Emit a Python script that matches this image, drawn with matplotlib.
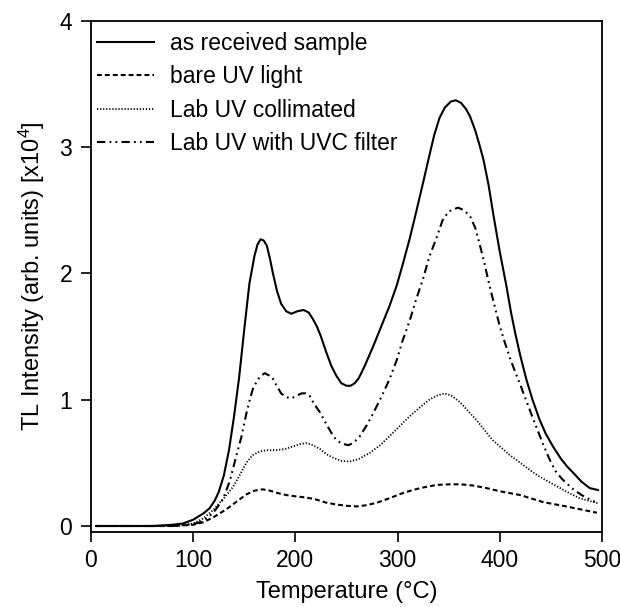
import matplotlib
matplotlib.use("Agg")
import matplotlib.pyplot as plt

plt.rcParams['font.family'] = ['Liberation Sans', 'DejaVu Sans']
plt.rcParams['mathtext.fontset'] = 'custom'
plt.rcParams['mathtext.rm'] = 'Liberation Sans'
plt.rcParams['mathtext.it'] = 'Liberation Sans'
plt.rcParams['lines.scale_dashes'] = False

# ---- data ----
labels = ["as received sample", "bare UV light", "Lab UV collimated", "Lab UV with UVC filter"]

t_received = [5, 60, 80, 90, 100, 110, 116, 121, 125, 130, 135, 140, 145, 150, 155, 160, 163, 166,
              169, 172, 175, 178, 182, 186, 191, 196, 202, 208, 213, 217, 221, 225, 230, 235, 240,
              245, 250, 254, 258, 262, 268, 276, 284, 292, 299, 305, 312, 318, 325, 331, 336, 341,
              346, 352, 357, 362, 367, 371, 376, 380, 384, 389, 394, 400, 406, 411, 415, 420, 426,
              432, 439, 445, 452, 460, 466, 472, 480, 488, 496]
i_received = [0, 0, 0.01, 0.02, 0.05, 0.10, 0.14, 0.20, 0.27, 0.40, 0.60, 0.87, 1.18, 1.56, 1.92,
              2.14, 2.23, 2.27, 2.26, 2.22, 2.12, 2.00, 1.86, 1.76, 1.70, 1.68, 1.70, 1.71, 1.69,
              1.64, 1.58, 1.50, 1.38, 1.27, 1.19, 1.13, 1.11, 1.11, 1.13, 1.17, 1.27, 1.42, 1.58,
              1.74, 1.90, 2.07, 2.28, 2.48, 2.72, 2.93, 3.10, 3.23, 3.31, 3.36, 3.37, 3.35, 3.30,
              3.24, 3.13, 3.02, 2.90, 2.70, 2.45, 2.17, 1.92, 1.69, 1.53, 1.35, 1.16, 1.00, 0.84,
              0.73, 0.63, 0.53, 0.47, 0.42, 0.35, 0.30, 0.285]

t_bare = [5, 80, 100, 110, 120, 132, 142, 152, 160, 168, 175, 183, 191, 200, 211, 220, 230, 240,
          250, 260, 270, 280, 292, 305, 315, 325, 338, 351, 362, 374, 387, 400, 410, 420, 432,
          442, 455, 465, 480, 495]
i_bare = [0, 0, 0.01, 0.03, 0.07, 0.13, 0.19, 0.25, 0.28, 0.29, 0.28, 0.26, 0.245, 0.235, 0.225,
          0.21, 0.185, 0.17, 0.16, 0.155, 0.165, 0.185, 0.22, 0.26, 0.285, 0.305, 0.325, 0.33,
          0.33, 0.32, 0.30, 0.275, 0.26, 0.245, 0.215, 0.19, 0.17, 0.155, 0.13, 0.105]

t_collim = [5, 80, 100, 110, 120, 130, 139, 146, 152, 158, 165, 172, 181, 190, 198, 205, 211, 217,
            224, 230, 237, 245, 253, 262, 273, 283, 292, 302, 312, 322, 331, 338, 346, 353, 361,
            369, 377, 385, 393, 400, 410, 420, 430, 439, 449, 459, 468, 478, 487, 496]
i_collim = [0, 0, 0.02, 0.06, 0.13, 0.22, 0.31, 0.41, 0.50, 0.56, 0.59, 0.60, 0.60, 0.61, 0.63,
            0.65, 0.655, 0.64, 0.61, 0.57, 0.54, 0.515, 0.51, 0.53, 0.58, 0.64, 0.71, 0.79, 0.87,
            0.94, 1.00, 1.03, 1.05, 1.03, 0.98, 0.91, 0.84, 0.76, 0.68, 0.63, 0.56, 0.50, 0.44,
            0.39, 0.345, 0.30, 0.26, 0.22, 0.20, 0.18]

t_uvc = [5, 80, 100, 107, 115, 122, 129, 136, 142, 147, 152, 156, 159, 165, 170, 177, 181, 186,
         191, 196, 201, 206, 210, 214, 218, 224, 230, 235, 240, 246, 252, 257, 263, 270, 276, 284,
         292, 299, 305, 312, 318, 325, 331, 338, 344, 350, 359, 365, 371, 376, 380, 385, 390, 395,
         400, 405, 410, 415, 420, 426, 433, 442, 448, 454, 460, 465, 472, 480, 488, 496]
i_uvc = [0, 0, 0.015, 0.03, 0.07, 0.13, 0.21, 0.36, 0.55, 0.70, 0.89, 1.02, 1.10, 1.18, 1.21, 1.18,
         1.12, 1.05, 1.02, 1.01, 1.03, 1.05, 1.05, 1.03, 0.97, 0.90, 0.81, 0.74, 0.68, 0.65, 0.64,
         0.66, 0.71, 0.80, 0.89, 1.02, 1.16, 1.31, 1.47, 1.63, 1.79, 1.96, 2.13, 2.28, 2.42, 2.49,
         2.52, 2.50, 2.45, 2.36, 2.24, 2.08, 1.90, 1.74, 1.58, 1.45, 1.33, 1.22, 1.12, 0.99, 0.84,
         0.655, 0.54, 0.44, 0.38, 0.34, 0.29, 0.245, 0.21, 0.18]

x_ticks = [0, 100, 200, 300, 400, 500]
y_ticks = [0, 1, 2, 3, 4]

# ---- figure ----
fig = plt.figure(figsize=(6.2, 6.07), dpi=100)
ax = fig.add_axes([91 / 620, 1 - 532 / 607, (602 - 91) / 620, (532 - 20.7) / 607])

lw = 1.5
ax.plot(t_received, i_received, color='black', lw=lw, ls='-', label=labels[0])
ax.plot(t_bare, i_bare, color='black', lw=lw, ls=(0, (3.5, 2.2)), label=labels[1])
ax.plot(t_collim, i_collim, color='black', lw=1.3, ls=(0, (0.9, 1.3)), label=labels[2])
ax.plot(t_uvc, i_uvc, color='black', lw=lw, ls=(0, (6, 3, 1.3, 3, 1.3, 3)), label=labels[3])

ax.set_xlim(0, 500)
ax.set_ylim(-0.0475, 4.0)
ax.set_xticks(x_ticks)
ax.set_yticks(y_ticks)
ax.tick_params(direction='out', length=7.5, width=1.2, labelsize=16.5)
ax.tick_params(axis='y', pad=6)
ax.tick_params(axis='x', pad=5)
for s in ax.spines.values():
    s.set_linewidth(1.3)

ax.set_xlabel('Temperature (°C)', fontsize=17, labelpad=6)
ax.set_ylabel(r'TL Intensity (arb. units) [x10$^4$]', fontsize=17, labelpad=9)

leg = ax.legend(loc='upper left', bbox_to_anchor=(0.012, 0.978), frameon=False, fontsize=16.5,
                handlelength=2.5, handletextpad=0.7, labelspacing=0.45, borderpad=0,
                borderaxespad=0)

fig.savefig('out.png', dpi=100)
